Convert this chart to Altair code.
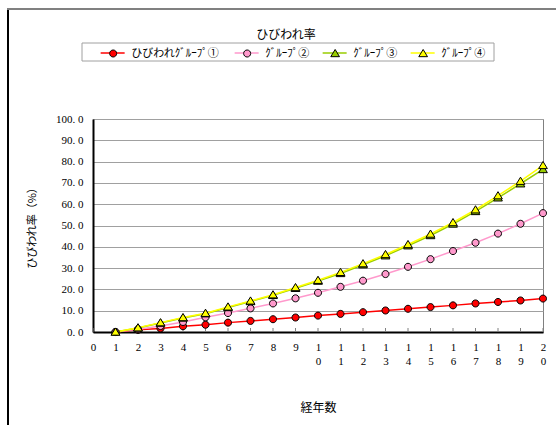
import altair as alt
import pandas as pd

# ひびわれ率の推移（経年数 1〜20）
years = list(range(1, 21))
group1 = [0.0, 1.0, 1.7, 2.7, 3.4, 4.4, 5.2, 6.0, 6.8, 7.7, 8.5, 9.3, 10.1, 10.9, 11.7, 12.5, 13.4, 14.1, 14.8, 15.7]
group2 = [0.0, 1.3, 2.8, 4.7, 6.9, 8.9, 11.1, 13.4, 15.8, 18.4, 21.2, 24.1, 27.2, 30.6, 34.2, 38.0, 41.9, 46.2, 50.8, 55.8]
group3 = [0.0, 1.9, 4.2, 6.6, 8.6, 11.5, 14.3, 17.2, 20.5, 23.9, 27.5, 31.6, 35.8, 40.5, 45.3, 50.7, 56.6, 63.0, 69.6, 76.3]
group4 = [0.0, 2.0, 4.4, 6.8, 8.8, 11.8, 14.6, 17.5, 20.9, 24.3, 28.0, 32.1, 36.4, 41.1, 46.0, 51.4, 57.4, 64.0, 70.8, 78.2]

series_names = ["ひびわれｸﾞﾙｰﾌﾟ①", "ｸﾞﾙｰﾌﾟ②", "ｸﾞﾙｰﾌﾟ③", "ｸﾞﾙｰﾌﾟ④"]
line_colors = ["#FF0000", "#FF99CC", "#99CC00", "#FFFF00"]
marker_fills = ["#FF0000", "#FF99CC", "#99CC00", "#FFFF00"]

x_ticks = list(range(0, 21))
y_ticks = list(range(0, 101, 10))

JP = "Noto Sans CJK JP"
NUM = "Liberation Serif"

rows = []
for name, vals in zip(series_names, [group1, group2, group3, group4]):
    for yr, v in zip(years, vals):
        rows.append({"year": yr, "rate": v, "group": name})
df = pd.DataFrame(rows)

# marker shapes on the plot (unit paths, scaled by the mark size)
CIRCLE = "M1.05,0A1.05,1.05,0,1,1,-1.05,0A1.05,1.05,0,1,1,1.05,0Z"
TRIANGLE = "M0,-1.2L1.3,0.95L-1.3,0.95Z"
marker_shapes = [CIRCLE, CIRCLE, TRIANGLE, TRIANGLE]

# legend symbols: a 24px line, and the marker centred on it
L_LINE = "M-1,0L6.155,0"
L_CIRCLE = "M3.628,0A1.05,1.05,0,1,1,1.528,0A1.05,1.05,0,1,1,3.628,0Z"
L_TRIANGLE = "M2.578,-1.2L3.878,0.95L1.278,0.95Z"
legend_markers = [L_CIRCLE, L_CIRCLE, L_TRIANGLE, L_TRIANGLE]
legend_x = [6, 140, 228, 316]   # left end of each legend entry (plot coords)
LEGEND_Y = -71

x_axis = alt.Axis(
    values=x_ticks,
    labelExpr="length(datum.label) > 1 ? split(datum.label, '') : datum.label",
    labelFont=NUM, labelFontSize=11, labelColor="#000000",
    labelPadding=9, labelLineHeight=14, labelFlush=False, labelOverlap=False,
    ticks=False, grid=False, domainColor="#000000", domainWidth=2,
    title="経年数", titleFont=JP, titleFontSize=12, titleFontWeight="normal",
    titleColor="#000000", titleX=225, titleY=75, titleBaseline="middle",
    titleAlign="center",
)
y_axis = alt.Axis(
    values=y_ticks,
    labelExpr="replace(format(datum.value, '.1f'), '.', '. ')",
    labelFont=NUM, labelFontSize=11, labelColor="#000000",
    labelPadding=10, labelOverlap=False, ticks=False,
    domainColor="#000000", domainWidth=2,
    grid=True, gridColor="#A0A0A0", gridWidth=1,
    title="ひびわれ率（%）", titleFont=JP, titleFontSize=11,
    titleFontWeight="normal", titleColor="#000000", titleAngle=270,
    titleX=-61, titleY=106, titleBaseline="middle", titleAlign="center",
)
x_scale = alt.Scale(domain=[0, 20], nice=False, zero=True)
y_scale = alt.Scale(domain=[0, 100], nice=False)

x_enc = alt.X("year:Q", scale=x_scale, axis=x_axis)
y_enc = alt.Y("rate:Q", scale=y_scale, axis=y_axis)

base = alt.Chart(df)

lines = base.mark_line(strokeWidth=1.5).encode(
    x=x_enc,
    y=y_enc,
    stroke=alt.Stroke(
        "group:N",
        scale=alt.Scale(domain=series_names, range=line_colors),
        legend=None,
    ),
)

points = base.mark_point(
    filled=True, size=45, stroke="#000000", strokeWidth=1, opacity=1
).encode(
    x=x_enc,
    y=y_enc,
    fill=alt.Fill(
        "group:N",
        scale=alt.Scale(domain=series_names, range=marker_fills),
        legend=None,
    ),
    shape=alt.Shape(
        "group:N",
        scale=alt.Scale(domain=series_names, range=marker_shapes),
        legend=None,
    ),
)

# short inner tick marks along the category axis
ticks = alt.Chart(pd.DataFrame({"year": x_ticks, "rate": [0] * len(x_ticks)})).mark_rule(
    color="#808080", strokeWidth=1
).encode(x=x_enc, y=y_enc, y2=alt.value(209))

# legend: one single-entry legend per series; line symbol underneath,
# marker and label on top
legend_src = alt.Chart(pd.DataFrame({"group": pd.Series([], dtype="object")}))
legend_line_layers = []
legend_mark_layers = []
for name, lc, fc, mk, lx in zip(series_names, line_colors, marker_fills, legend_markers, legend_x):
    common = dict(orient="none", legendX=lx, legendY=LEGEND_Y, padding=0,
                  symbolSize=45, symbolOffset=0, title=None)
    legend_line_layers.append(
        legend_src.mark_point(filled=False, size=45, strokeWidth=1.5, opacity=1).encode(
            stroke=alt.Stroke(
                "group:N",
                scale=alt.Scale(domain=[name], range=[lc]),
                legend=alt.Legend(symbolType=L_LINE, symbolStrokeWidth=1.5,
                                  labelExpr="''", **common),
            )
        )
    )
    legend_mark_layers.append(
        legend_src.mark_point(filled=True, size=45, stroke="#000000", strokeWidth=1, opacity=1).encode(
            fill=alt.Fill(
                "group:N",
                scale=alt.Scale(domain=[name], range=[fc]),
                legend=alt.Legend(symbolType=mk, symbolStrokeColor="#000000",
                                  symbolStrokeWidth=1, labelOffset=21.3,
                                  labelFont=JP, labelFontSize=11,
                                  labelColor="#000000", labelLimit=0, **common),
            )
        )
    )

# legend frame and chart-area frame (left and top edges)
frame_src = alt.Chart(pd.DataFrame({"k": [0]}))
legend_box = frame_src.mark_rect(fill="#FFFFFF", stroke="#A0A0A0", strokeWidth=1).encode(
    x=alt.value(-11), x2=alt.value(401), y=alt.value(-76), y2=alt.value(-58)
)
frame_left = frame_src.mark_rule(color="#000000", strokeWidth=2).encode(
    x=alt.value(-85), y=alt.value(-110), y2=alt.value(306)
)
frame_top = frame_src.mark_rule(color="#808080", strokeWidth=2).encode(
    x=alt.value(-86), x2=alt.value(463), y=alt.value(-110)
)

chart = (
    alt.layer(frame_left, frame_top, legend_box, ticks, lines, points,
              *legend_line_layers, *legend_mark_layers)
    .resolve_scale(stroke="independent", fill="independent", shape="independent")
    .resolve_legend(stroke="independent", fill="independent", shape="independent")
    .properties(
        width=450,
        height=213,
        autosize=alt.AutoSizeParams(type="none"),
        padding={"left": 93, "top": 119, "right": 13, "bottom": 93},
        background="#FFFFFF",
        title=alt.TitleParams(
            "ひびわれ率", font=JP, fontSize=12, fontWeight="normal",
            color="#000000", anchor="middle", frame="group", dx=-32, offset=-34,
        ),
    )
    .configure_view(stroke="#808080", strokeWidth=1)
)

chart.save("out.html", embed_options={"renderer": "svg", "actions": False})
